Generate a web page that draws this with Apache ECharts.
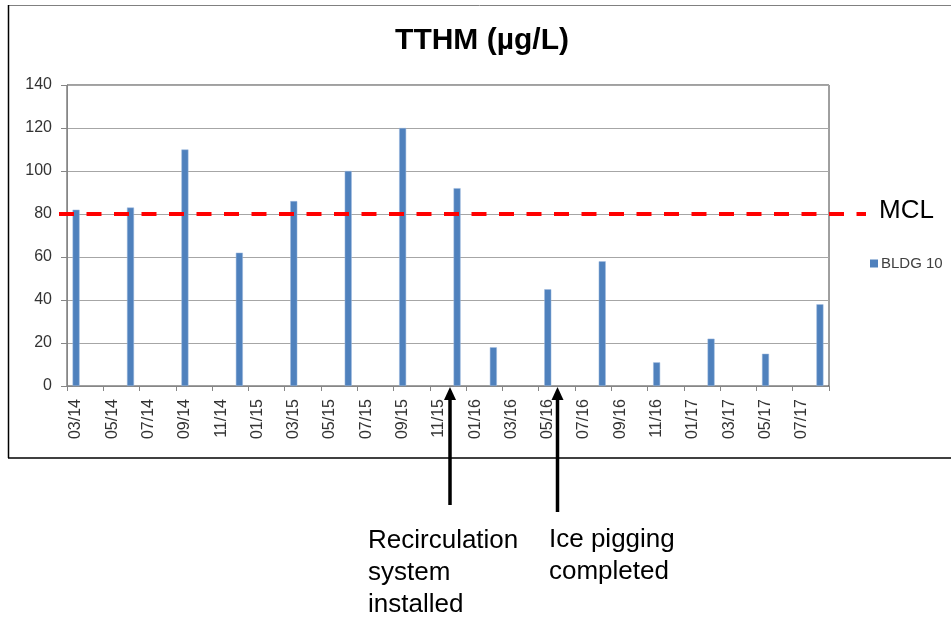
<!DOCTYPE html>
<html><head><meta charset="utf-8">
<script src="https://cdn.jsdelivr.net/npm/echarts@6/dist/echarts.min.js"></script>
<style>html,body{margin:0;padding:0;background:#fff}#c{width:951px;height:618px}</style>
</head><body><div id="c"></div>
<script>
// all months on the axis (labels shown every 2nd month)
const months = ['03/14','04/14','05/14','06/14','07/14','08/14','09/14','10/14','11/14','12/14',
  '01/15','02/15','03/15','04/15','05/15','06/15','07/15','08/15','09/15','10/15','11/15','12/15',
  '01/16','02/16','03/16','04/16','05/16','06/16','07/16','08/16','09/16','10/16','11/16','12/16',
  '01/17','02/17','03/17','04/17','05/17','06/17','07/17','08/17'];
// sampling months and TTHM values (µg/L)
const sampleMonths = ['03/14','06/14','09/14','12/14','03/15','06/15','09/15','12/15','02/16','05/16','08/16','11/16','02/17','05/17','08/17'];
const tthm = [82, 83, 110, 62, 86, 100, 120, 92, 18, 45, 58, 11, 22, 15, 38];
const seriesName = 'BLDG 10';
const MCL = 80;
const yMin = 0, yMax = 140, yStep = 20;

const barData = months.map(m => { const i = sampleMonths.indexOf(m); return i >= 0 ? tthm[i] : '-'; });
const FF = 'Liberation Sans, Arial, sans-serif';

const chart = echarts.init(document.getElementById('c'), null, {renderer: 'canvas'});
chart.setOption({
  animation: false,
  backgroundColor: '#fff',
  grid: {left: 67, right: 122, top: 85, bottom: 232, show: true, borderColor: '#404040', borderWidth: 1, containLabel: false},
  legend: {
    left: 865, top: 251, icon: 'rect', itemWidth: 8, itemHeight: 8, itemGap: 5,
    itemStyle: {borderWidth: 0, color: '#4F81BD'},
    textStyle: {fontFamily: FF, fontSize: 15, color: '#404040', padding: [0,0,0,-2]},
    data: [seriesName]
  },
  xAxis: {
    type: 'category', data: months, boundaryGap: true,
    axisLine: {lineStyle: {color: '#868686', width: 1}},
    axisTick: {show: true, interval: 1, length: 5, lineStyle: {color: '#868686'}},
    axisLabel: {interval: 1, rotate: 90, margin: 13, fontSize: 16, fontFamily: FF, color: '#333'},
    splitLine: {show: false}
  },
  yAxis: {
    type: 'value', min: yMin, max: yMax, interval: yStep,
    axisLine: {show: true, lineStyle: {color: '#868686', width: 1}},
    axisTick: {show: true, length: 6, lineStyle: {color: '#868686'}},
    axisLabel: {margin: 15, fontSize: 16, fontFamily: FF, color: '#333'},
    splitLine: {lineStyle: {color: '#A6A6A6', width: 1}}
  },
  series: [{
    name: seriesName, type: 'bar', data: barData, barWidth: 7,
    itemStyle: {color: '#4F81BD', borderColor: '#9DB9DE', borderWidth: 0.5}
  }],
  graphic: [
    {type: 'line', id: 'frameTop', shape: {x1: 8, y1: 5.5, x2: 951, y2: 5.5}, style: {stroke: '#808080', lineWidth: 1}},
    {type: 'line', id: 'frameLeft', shape: {x1: 8.5, y1: 5, x2: 8.5, y2: 458}, style: {stroke: '#000', lineWidth: 1.5}},
    {type: 'line', id: 'frameBottom', shape: {x1: 8, y1: 458, x2: 951, y2: 458}, style: {stroke: '#000', lineWidth: 1.5}},
    {type: 'text', id: 'title', style: {x: 482, y: 41, text: 'TTHM (µg/L)', fontFamily: FF, fontWeight: 'bold', fontSize: 30, fill: '#000', textAlign: 'center', textVerticalAlign: 'middle'}},
    {type: 'line', id: 'arr1', shape: {x1: 450, y1: 505, x2: 450, y2: 396}, style: {stroke: '#000', lineWidth: 3.5}},
    {type: 'polygon', id: 'arr1h', shape: {points: [[444, 400], [456, 400], [450, 387]]}, style: {fill: '#000'}},
    {type: 'line', id: 'arr2', shape: {x1: 557.5, y1: 512, x2: 557.5, y2: 396}, style: {stroke: '#000', lineWidth: 3.5}},
    {type: 'polygon', id: 'arr2h', shape: {points: [[551.5, 400], [563.5, 400], [557.5, 387]]}, style: {fill: '#000'}},
    {type: 'text', id: 'note1', style: {x: 368, y: 525, text: 'Recirculation\nsystem\ninstalled', fontFamily: FF, fontSize: 26, lineHeight: 32, fill: '#000', textAlign: 'left', textVerticalAlign: 'top'}},
    {type: 'text', id: 'note2', style: {x: 549, y: 524, text: 'Ice pigging\ncompleted', fontFamily: FF, fontSize: 26, lineHeight: 32, fill: '#000', textAlign: 'left', textVerticalAlign: 'top'}}
  ]
});

const yM = chart.convertToPixel({yAxisIndex: 0}, MCL);
chart.setOption({
  graphic: [
    {type: 'line', id: 'mcl', z: 100, shape: {x1: 59, y1: yM, x2: 866, y2: yM}, style: {stroke: '#FF0000', lineWidth: 4, lineDash: [15, 12.5]}},
    {type: 'text', id: 'mclText', z: 100, style: {x: 879, y: yM - 3, text: 'MCL', fontFamily: FF, fontSize: 26, fill: '#000', textAlign: 'left', textVerticalAlign: 'middle'}}
  ]
});
</script>
</body></html>
